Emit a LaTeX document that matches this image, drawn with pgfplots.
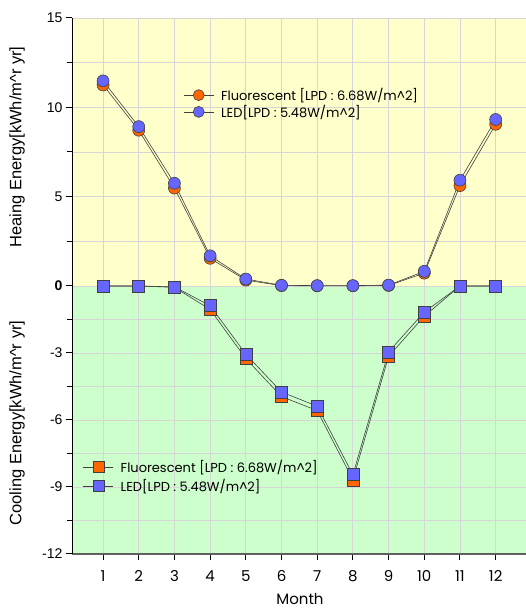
\documentclass[border=0pt]{standalone}
\usepackage{pgfplots}
\pgfplotsset{compat=1.18}
\usepackage{fontspec}
\setmainfont{Liberation Sans}
\newfontfamily\gothic{Poppins}
\definecolor{bgyellow}{HTML}{FFFFCC}
\definecolor{bggreen}{HTML}{CCFFCC}
\definecolor{ored}{HTML}{FF6600}
\definecolor{lblue}{HTML}{6666FF}
\definecolor{gridc}{HTML}{D6D6D6}
\definecolor{linec}{HTML}{404040}
\pgfplotsset{
  myaxis/.style={
    scale only axis, width=454pt, height=536pt,
    xmin=0.13, xmax=12.85, ymin=-12, ymax=15,
    y coord trafo/.code={\pgfmathparse{ifthenelse(##1<0,1.25*##1,##1)}},
    y coord inv trafo/.code={\pgfmathparse{ifthenelse(##1<0,##1/1.25,##1)}},
    legend image code/.code={\draw[mark repeat=2,mark phase=2,##1] plot coordinates {(0pt,0pt) (15pt,0pt) (30pt,0pt)};\path (35pt,0pt);},
    legend cell align=left,
  },
  ser/.style={draw=linec, line width=0.6pt, mark size=6pt,
    mark options={solid, draw=gray!70!black, double=white, double distance=0.9pt, line width=0.5pt}},
  leg/.style={draw=linec, line width=0.6pt, mark size=5.5pt, mark options={solid, draw=none}},
}
\begin{document}
\begin{tikzpicture}
\begin{axis}[myaxis, set layers,
  /pgf/number format/assume math mode=true,
  axis x line=bottom, axis y line=left,
  x axis line style={-, draw=gray!75!black, line width=1.6pt},
  y axis line style={-, draw=black, line width=1pt},
  xtick={1,2,3,4,5,6,7,8,9,10,11,12},
  ytick={-12,-9,-6,-3,0,5,10,15},
  yticklabels={-12,-9,-6,-3,\textbf{0},5,10,15},
  minor ytick={-10.5,-7.5,-4.5,-1.5,2.5,7.5,12.5},
  grid=both,
  major grid style={draw=gridc, line width=0.8pt},
  minor grid style={draw=gridc, line width=0.8pt},
  tick align=outside, major tick length=6pt, minor tick length=5pt,
  every tick/.style={black, line width=1pt},
  yticklabel style={font=\fontsize{14}{14}\selectfont},
  xticklabel style={font=\gothic\fontsize{15}{15}\selectfont, yshift=-7pt},
  legend style={at={(0.245,0.873)}, anchor=north west, draw=none, fill=none,
    font=\gothic\fontsize{13}{15}\selectfont, inner sep=0pt, row sep=-1pt},
]
\begin{pgfonlayer}{axis background}
\fill[bggreen] (rel axis cs:0,0) rectangle (rel axis cs:1,0.5);
\fill[bgyellow] (rel axis cs:0,0.5) rectangle (rel axis cs:1,1);
\end{pgfonlayer}
\addlegendimage{leg, mark=*, mark options={fill=ored}}
\addlegendentry{Fluorescent [LPD : 6.68W/m\textasciicircum 2]}
\addlegendimage{leg, mark=*, mark options={fill=lblue}}
\addlegendentry{LED[LPD : 5.48W/m\textasciicircum 2]}
% Heating, Fluorescent
\addplot[ser, mark=*, mark options={fill=ored}, forget plot] coordinates {
(1,11.25) (2,8.72) (3,5.48) (4,1.55) (5,0.33) (6,0.02) (7,0.01) (8,0.01) (9,0.03) (10,0.72) (11,5.62) (12,9.05)};
% Heating, LED
\addplot[ser, mark=*, mark options={fill=lblue}, forget plot] coordinates {
(1,11.48) (2,8.92) (3,5.75) (4,1.69) (5,0.39) (6,0.04) (7,0.02) (8,0.02) (9,0.05) (10,0.82) (11,5.92) (12,9.32)};
\end{axis}
\begin{axis}[myaxis, hide axis,
  legend style={at={(0.024,0.179)}, anchor=north west, draw=none, fill=none,
    font=\gothic\fontsize{13}{15}\selectfont, inner sep=0pt, row sep=1pt},
]
\addlegendimage{leg, mark=square*, mark options={fill=ored}}
\addlegendentry{Fluorescent [LPD : 6.68W/m\textasciicircum 2]}
\addlegendimage{leg, mark=square*, mark options={fill=lblue}}
\addlegendentry{LED[LPD : 5.48W/m\textasciicircum 2]}
% Cooling, Fluorescent
\addplot[ser, mark=square*, mark options={fill=ored}, forget plot] coordinates {
(1,0) (2,0) (3,-0.06) (4,-1.05) (5,-3.25) (6,-4.95) (7,-5.58) (8,-8.68) (9,-3.15) (10,-1.35) (11,0) (12,0)};
% Cooling, LED
\addplot[ser, mark=square*, mark options={fill=lblue}, forget plot] coordinates {
(1,0) (2,0) (3,-0.04) (4,-0.88) (5,-3.05) (6,-4.75) (7,-5.38) (8,-8.45) (9,-2.95) (10,-1.17) (11,0) (12,0)};
\end{axis}
\path (current axis.south west) ++(-55pt,407pt) node[rotate=90, font=\fontsize{16.5}{16.5}\selectfont] {Heaing Energy[kWh/m\textasciicircum r yr]};
\path (current axis.south west) ++(-55pt,131pt) node[rotate=90, font=\fontsize{16.5}{16.5}\selectfont] {Cooling Energy[kWh/m\textasciicircum r yr]};
\path (current axis.south west) ++(228pt,-45pt) node[font=\gothic\fontsize{15}{15}\selectfont] {Month};
\pgfresetboundingbox
\path ([xshift=-72pt,yshift=-56pt]current axis.south west) rectangle ([yshift=18pt]current axis.north east);
\end{tikzpicture}
\end{document}
